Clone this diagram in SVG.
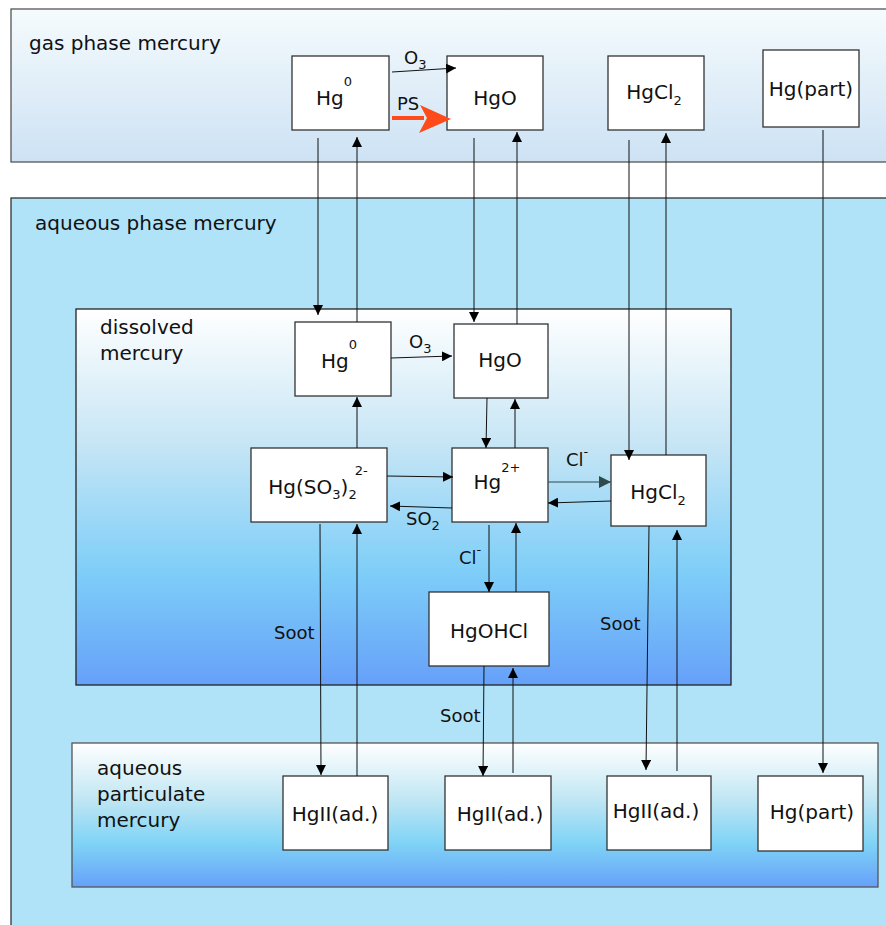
<svg xmlns="http://www.w3.org/2000/svg" width="886" height="925" viewBox="0 0 886 925">
<defs>
<linearGradient id="gGas" x1="0" y1="0" x2="0" y2="1">
<stop offset="0" stop-color="#f5fbfd"/>
<stop offset="1" stop-color="#cde2f4"/>
</linearGradient>
<linearGradient id="gDis" x1="0" y1="0" x2="0" y2="1">
<stop offset="0" stop-color="#ffffff"/>
<stop offset="0.35" stop-color="#c8e6f5"/>
<stop offset="0.7" stop-color="#7ecef8"/>
<stop offset="1" stop-color="#66a0f9"/>
</linearGradient>
<linearGradient id="gPar" x1="0" y1="0" x2="0" y2="1">
<stop offset="0" stop-color="#ffffff"/>
<stop offset="0.4" stop-color="#bfe6f3"/>
<stop offset="0.7" stop-color="#7fd3f6"/>
<stop offset="1" stop-color="#66a0f9"/>
</linearGradient>
<marker id="ah" viewBox="0 0 10 10" refX="10" refY="5" markerWidth="10" markerHeight="10" markerUnits="userSpaceOnUse" orient="auto">
<path d="M0,0 L10,5 L0,10 Z" fill="#000"/>
</marker>
<marker id="ahg" viewBox="0 0 10 10" refX="10" refY="5" markerWidth="12" markerHeight="12" markerUnits="userSpaceOnUse" orient="auto">
<path d="M0,0 L10,5 L0,10 Z" fill="#2f4a4a"/>
</marker>
</defs>
<style>
text{font-family:"DejaVu Sans","Liberation Sans",sans-serif;fill:#111;}
.lbl{font-size:20px;}
.nt{font-size:20px;text-anchor:middle;}
.sm{font-size:13px;}
.edge{font-size:18px;}
.node rect{fill:#fff;stroke:#333;stroke-width:1.3;}
.c{stroke:#111;stroke-width:1;fill:none;marker-end:url(#ah);}
.cg{stroke:#2f4a4a;stroke-width:1;fill:none;marker-end:url(#ahg);}
</style>
<rect width="886" height="925" fill="#fff"/>
<g id="containers">
<rect id="gas-box" x="11" y="9" width="890" height="153" fill="url(#gGas)" stroke="#555" stroke-width="1.3"/>
<rect id="aq-box" x="11" y="198" width="890" height="740" fill="#b0e3f7" stroke="#333" stroke-width="1.3"/>
<rect id="dis-box" x="76" y="309" width="655" height="376" fill="url(#gDis)" stroke="#222" stroke-width="1.3"/>
<rect id="par-box" x="72" y="743" width="806" height="144" fill="url(#gPar)" stroke="#555" stroke-width="1.3"/>
<text class="lbl" x="29" y="50">gas phase mercury</text>
<text class="lbl" x="35" y="230">aqueous phase mercury</text>
<text class="lbl" x="100" y="334">dissolved</text>
<text class="lbl" x="100" y="360">mercury</text>
<text class="lbl" x="97" y="775">aqueous</text>
<text class="lbl" x="97" y="801">particulate</text>
<text class="lbl" x="97" y="827">mercury</text>
</g>
<g id="gas-Hg0" class="node"><rect x="292" y="56" width="97" height="74"/><text class="nt" x="334" y="105">Hg<tspan class="sm" dy="-19">0</tspan></text></g>
<g id="gas-HgO" class="node"><rect x="447" y="56" width="96" height="74"/><text class="nt" x="495" y="105">HgO</text></g>
<g id="gas-HgCl2" class="node"><rect x="608" y="56" width="96" height="74"/><text class="nt" x="654" y="99">HgCl<tspan class="sm" dy="6">2</tspan></text></g>
<g id="gas-Hgpart" class="node"><rect x="763" y="50" width="96" height="77"/><text class="nt" x="811" y="96">Hg(part)</text></g>
<g id="dis-Hg0" class="node"><rect x="295" y="322" width="96" height="74"/><text class="nt" x="339" y="368">Hg<tspan class="sm" dy="-19">0</tspan></text></g>
<g id="dis-HgO" class="node"><rect x="454" y="324" width="94" height="74"/><text class="nt" x="500" y="367">HgO</text></g>
<g id="dis-HgSO3" class="node"><rect x="251" y="448" width="136" height="74"/><text class="nt" x="318" y="494">Hg(SO<tspan class="sm" dy="5">3</tspan><tspan dy="-5">)</tspan><tspan class="sm" dy="5">2</tspan><tspan class="sm" dx="-2" dy="-24">2-</tspan></text></g>
<g id="dis-Hg2" class="node"><rect x="452" y="448" width="96" height="74"/><text class="nt" x="497" y="489">Hg<tspan class="sm" dy="-17">2+</tspan></text></g>
<g id="dis-HgCl2" class="node"><rect x="611" y="455" width="95" height="71"/><text class="nt" x="658" y="499">HgCl<tspan class="sm" dy="6">2</tspan></text></g>
<g id="dis-HgOHCl" class="node"><rect x="429" y="592" width="120" height="74"/><text class="nt" x="489" y="638">HgOHCl</text></g>
<g id="par-HgII-1" class="node"><rect x="283" y="776" width="105" height="74"/><text class="nt" x="335" y="821">HgII(ad.)</text></g>
<g id="par-HgII-2" class="node"><rect x="445" y="776" width="106" height="74"/><text class="nt" x="500" y="821">HgII(ad.)</text></g>
<g id="par-HgII-3" class="node"><rect x="607" y="776" width="104" height="74"/><text class="nt" x="656" y="818">HgII(ad.)</text></g>
<g id="par-Hgpart" class="node"><rect x="758" y="776" width="105" height="75"/><text class="nt" x="812" y="819">Hg(part)</text></g>
<g id="connectors">
<path class="c" d="M318,138 L318,315"/>
<path class="c" d="M357,322 L357,137"/>
<path class="c" d="M474,138 L474,322"/>
<path class="c" d="M517,324 L517,132"/>
<path class="c" d="M629,140 L629,460"/>
<path class="c" d="M666,455 L666,133"/>
<path class="c" d="M823,130 L823,773"/>
<path class="c" d="M392,72 L456,68"/>
<g id="ps-arrow">
<path d="M392,118 L424,118" stroke="#ff4a1a" stroke-width="4" fill="none"/>
<path d="M420,105 L451,119 L419,133 L427,118 Z" fill="#ff4a1a"/>
</g>
<path class="c" d="M391,358 L452,356"/>
<path class="c" d="M487,398 L486,448"/>
<path class="c" d="M515,448 L515,399"/>
<path class="c" d="M357,448 L357,397"/>
<path class="c" d="M387,476 L453,477"/>
<path class="c" d="M452,508 L390,506"/>
<path class="cg" d="M548,482 L611,482"/>
<path class="c" d="M611,501 L548,503"/>
<path class="c" d="M489,525 L489,592"/>
<path class="c" d="M516,592 L516,523"/>
<path class="c" d="M320,524 L321,775"/>
<path class="c" d="M357,776 L357,524"/>
<path class="c" d="M484,666 L483,776"/>
<path class="c" d="M513,773 L513,668"/>
<path class="c" d="M649,526 L646,770"/>
<path class="c" d="M677,771 L677,530"/>
<text class="edge" x="404" y="64">O<tspan class="sm" dy="5">3</tspan></text>
<text class="edge" x="397" y="110">PS</text>
<text class="edge" x="409" y="348">O<tspan class="sm" dy="5">3</tspan></text>
<text class="edge" x="406" y="525">SO<tspan class="sm" dy="5">2</tspan></text>
<text class="edge" x="566" y="466">Cl<tspan class="sm" dy="-10">-</tspan></text>
<text class="edge" x="459" y="564">Cl<tspan class="sm" dy="-10">-</tspan></text>
<text class="edge" x="274" y="639">Soot</text>
<text class="edge" x="440" y="722">Soot</text>
<text class="edge" x="600" y="630">Soot</text>
</g>
</svg>
